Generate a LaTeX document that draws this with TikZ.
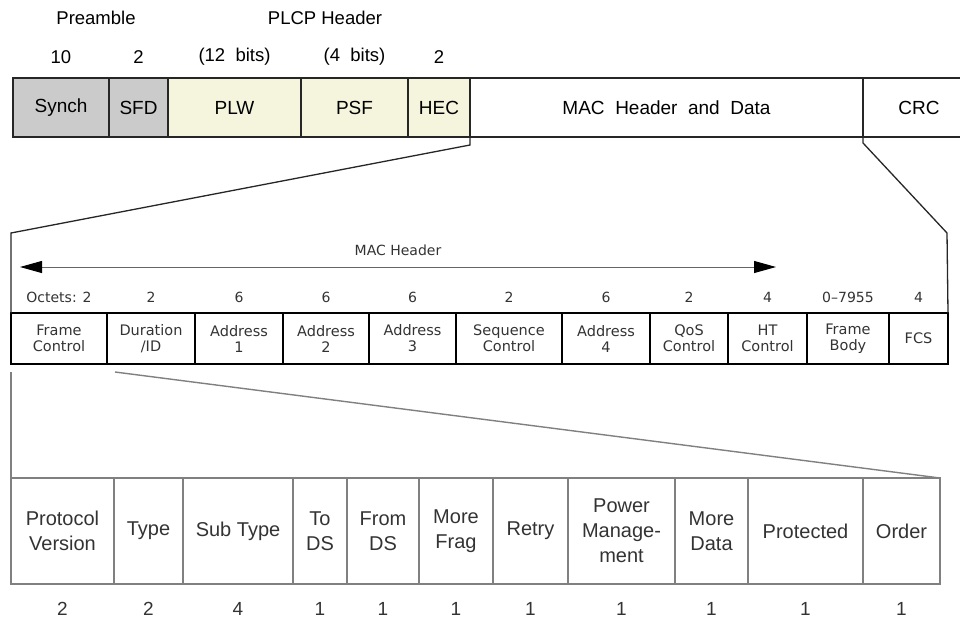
\documentclass[tikz,border=0pt]{standalone}
\usepackage{fontspec}
\setmainfont{Liberation Sans}
\newfontfamily\dvsans{DejaVu Sans}
\usetikzlibrary{arrows.meta}
\definecolor{preamblegray}{HTML}{CBCBCB}
\definecolor{plcpyellow}{HTML}{F5F5DE}
\definecolor{midtext}{HTML}{333333}
\definecolor{botline}{HTML}{808080}
\begin{document}
\begin{tikzpicture}[x=1pt,y=-1pt,
  topcell/.style={draw=black!85, line width=1.3pt, inner sep=0pt, outer sep=0pt,
    minimum height=59pt, font=\fontsize{19}{22}\selectfont},
  toplabel/.style={inner sep=0pt, font=\fontsize{18.5}{22}\selectfont},
  midcell/.style={draw=black, line width=2pt, inner sep=0pt, outer sep=0pt,
    minimum height=51pt, align=center, text=midtext,
    font=\dvsans\fontsize{14.5}{16}\selectfont},
  midlabel/.style={inner sep=0pt, text=midtext, font=\dvsans\fontsize{14}{16}\selectfont},
  botcell/.style={draw=botline, line width=1.4pt, inner sep=0pt, outer sep=0pt,
    minimum height=106pt, align=center, text=midtext,
    font=\fontsize{20}{25}\selectfont},
  botlabel/.style={inner sep=0pt, text=midtext, font=\fontsize{19}{22}\selectfont},
  topconn/.style={draw=black!85, line width=1.3pt},
  botconn/.style={draw=botline, line width=1.4pt},
  spanarrow/.style={draw=black!60, line width=1pt,
    {Triangle[length=22pt,width=12pt,color=black]}-{Triangle[length=22pt,width=12pt,color=black]}}
]
\useasboundingbox (0,0) rectangle (960,621);

% ---------- top row ----------
\node[topcell, fill=preamblegray, minimum width=96pt] (synch) at (61,107.5) {Synch};
\node[topcell, fill=preamblegray, minimum width=59pt] (sfd) at (138.5,107.5) {SFD};
\node[topcell, fill=plcpyellow, minimum width=133pt] (plw) at (234.5,107.5) {PLW};
\node[topcell, fill=plcpyellow, minimum width=107pt] (psf) at (354.5,107.5) {PSF};
\node[topcell, fill=plcpyellow, minimum width=62pt] (hec) at (439,107.5) {HEC};
\node[topcell, minimum width=393pt] (mac) at (666.5,107.5) {MAC\ \ Header\ \ and\ \ Data};
\node[topcell, draw=none, minimum width=97pt] (crc) at (911.5,107.5) {\hspace*{15pt}CRC};
\draw[topconn] (mac.north east) -- (crc.north east);
\draw[topconn] (mac.south east) -- (crc.south east);

\node[toplabel] (preamble) at (96,18) {Preamble};
\node[toplabel] (plcp) at (325,18) {PLCP Header};
\node[toplabel] (nsynch) at ([yshift=21pt]synch.north) {10};
\node[toplabel] (nsfd) at ([yshift=21pt]sfd.north) {2};
\node[toplabel] (nplw) at ([yshift=21pt]plw.north) {(12\ \ bits)};
\node[toplabel] (npsf) at ([yshift=21pt]psf.north) {(4\ \ bits)};
\node[toplabel] (nhec) at ([yshift=21pt]hec.north) {2};

% ---------- middle row ----------
\node[midcell, minimum width=96pt] (fc) at (59,338.5) {Frame\\Control};
\node[midcell, minimum width=88pt] (dur) at (151,338.5) {Duration\\/ID};
\node[midcell, minimum width=88pt] (a1) at (239,338.5) {Address\\1};
\node[midcell, minimum width=86pt] (a2) at (326,338.5) {Address\\2};
\node[midcell, minimum width=87pt] (a3) at (412.5,338.5) {Address\\3};
\node[midcell, minimum width=106pt] (seq) at (509,338.5) {Sequence\\Control};
\node[midcell, minimum width=88pt] (a4) at (606,338.5) {Address\\4};
\node[midcell, minimum width=78pt] (qos) at (689,338.5) {QoS\\Control};
\node[midcell, minimum width=79pt] (ht) at (767.5,338.5) {HT\\Control};
\node[midcell, minimum width=82pt] (fb) at (848,338.5) {Frame\\Body};
\node[midcell, minimum width=59pt] (fcs) at (918.5,338.5) {FCS};

\node[midlabel] (ofc) at ([yshift=16pt]fc.north) {Octets: 2};
\node[midlabel] (odur) at ([yshift=16pt]dur.north) {2};
\node[midlabel] (oa1) at ([yshift=16pt]a1.north) {6};
\node[midlabel] (oa2) at ([yshift=16pt]a2.north) {6};
\node[midlabel] (oa3) at ([yshift=16pt]a3.north) {6};
\node[midlabel] (oseq) at ([yshift=16pt]seq.north) {2};
\node[midlabel] (oa4) at ([yshift=16pt]a4.north) {6};
\node[midlabel] (oqos) at ([yshift=16pt]qos.north) {2};
\node[midlabel] (oht) at ([yshift=16pt]ht.north) {4};
\node[midlabel] (ofb) at ([yshift=16pt]fb.north) {0–7955};
\node[midlabel] (ofcs) at ([yshift=16pt]fcs.north) {4};

\node[midlabel] (machdr) at (398,250) {MAC Header};
\coordinate (arrowl) at (20,267);
\coordinate (arrowr) at (776,267);
\draw[spanarrow] (arrowl) -- (arrowr);

% ---------- bottom row ----------
\node[botcell, minimum width=103pt] (pv) at (62.5,531) {Protocol\\Version};
\node[botcell, minimum width=69pt] (type) at (148.5,531) {Type};
\node[botcell, minimum width=110pt] (sub) at (238,531) {Sub Type};
\node[botcell, minimum width=54pt] (tods) at (320,531) {To\\DS};
\node[botcell, minimum width=72pt] (fromds) at (383,531) {From\\DS};
\node[botcell, minimum width=74pt] (mfrag) at (456,531) {More\\Frag};
\node[botcell, minimum width=75pt] (retry) at (530.5,531) {Retry};
\node[botcell, minimum width=107pt] (pm) at (621.5,531) {Power\\Manage-\\ment};
\node[botcell, minimum width=73pt] (mdata) at (711.5,531) {More\\Data};
\node[botcell, minimum width=115pt] (prot) at (805.5,531) {Protected};
\node[botcell, minimum width=77pt] (order) at (901.5,531) {Order};

\node[botlabel] (bpv) at ([yshift=-25pt]pv.south) {2};
\node[botlabel] (btype) at ([yshift=-25pt]type.south) {2};
\node[botlabel] (bsub) at ([yshift=-25pt]sub.south) {4};
\node[botlabel] (btods) at ([yshift=-25pt]tods.south) {1};
\node[botlabel] (bfromds) at ([yshift=-25pt]fromds.south) {1};
\node[botlabel] (bmfrag) at ([yshift=-25pt]mfrag.south) {1};
\node[botlabel] (bretry) at ([yshift=-25pt]retry.south) {1};
\node[botlabel] (bpm) at ([yshift=-25pt]pm.south) {1};
\node[botlabel] (bmdata) at ([yshift=-25pt]mdata.south) {1};
\node[botlabel] (bprot) at ([yshift=-25pt]prot.south) {1};
\node[botlabel] (border) at ([yshift=-25pt]order.south) {1};

% ---------- connectors ----------
\coordinate (hecdrop) at (470,145);
\coordinate (leftbend) at (11,233);
\draw[topconn] (hec.south east) -- (hecdrop) -- (leftbend) -- (fc.north west);
\coordinate (crcdrop) at (863,143);
\coordinate (rightbend) at (947,233);
\draw[topconn] (crc.south west) -- (crcdrop) -- (rightbend) -- (fcs.north east);

\coordinate (fcdrop) at (11,372);
\draw[botconn] (fcdrop) -- (pv.north west);
\coordinate (durdrop) at (115,372);
\draw[botconn] (durdrop) -- (order.north east);
\end{tikzpicture}
\end{document}
